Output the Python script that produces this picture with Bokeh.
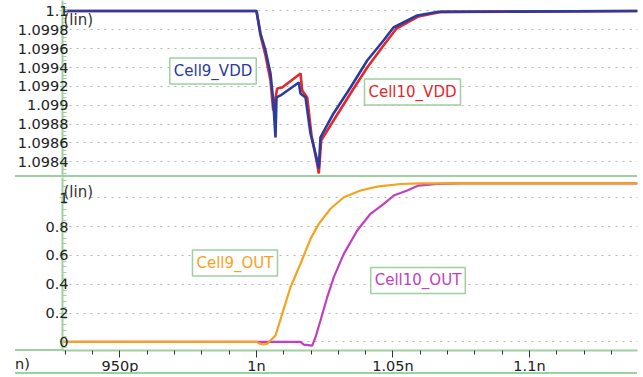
from bokeh.plotting import figure
from bokeh.layouts import column
from bokeh.models import Range1d, Label, FixedTicker, ColumnDataSource, Div
from bokeh.embed import file_html
from bokeh.resources import INLINE

# ---------------- data ----------------
# time in ns
x_ticks = [0.95, 1.0, 1.05, 1.1]
x_tick_labels = ["950p", "1n", "1.05n", "1.1n"]
x_unit_fragment = "n)"

vdd_ticks = [1.0984, 1.0986, 1.0988, 1.099, 1.0992, 1.0994, 1.0996, 1.0998, 1.1]
vdd_tick_labels = ["1.0984", "1.0986", "1.0988", "1.099", "1.0992", "1.0994", "1.0996", "1.0998", "1.1"]
out_ticks = [0, 0.2, 0.4, 0.6, 0.8, 1.0]
out_tick_labels = ["0", "0.2", "0.4", "0.6", "0.8", "1"]

cell9_vdd_t = [0.929, 1.0, 1.00147, 1.0033, 1.00513, 1.00612, 1.00696, 1.00733, 1.00879,
               1.0155, 1.01612, 1.01795, 1.01978, 1.02223, 1.02282, 1.02344, 1.02821,
               1.03443, 1.04055, 1.04652, 1.05018, 1.05886, 1.06619, 1.1396]
cell9_vdd_v = [1.1, 1.1, 1.099761, 1.099581, 1.099337, 1.099051, 1.098659, 1.099083, 1.099104,
               1.099242, 1.099125, 1.099083, 1.098701, 1.098415, 1.098330, 1.098659, 1.098913,
               1.099189, 1.099475, 1.099687, 1.099825, 1.099952, 1.09999, 1.1]

cell10_vdd_t = [0.929, 1.0, 1.00147, 1.0033, 1.00513, 1.00612, 1.00758, 1.00941, 1.01612,
                1.01674, 1.01857, 1.02015, 1.02234, 1.02282, 1.0237, 1.02821, 1.03443,
                1.04055, 1.04652, 1.05128, 1.05934, 1.0674, 1.1396]
cell10_vdd_v = [1.1, 1.1, 1.099740, 1.099528, 1.099263, 1.098945, 1.099178, 1.099189, 1.099337,
                1.099157, 1.099083, 1.098680, 1.098362, 1.098277, 1.098627, 1.098839, 1.099125,
                1.099401, 1.099634, 1.099814, 1.099942, 1.09999, 1.1]

cell9_out_t = [0.929, 1.0, 1.0011, 1.00267, 1.00403, 1.0055, 1.00696, 1.00941, 1.01245, 1.01612,
               1.01978, 1.02282, 1.02711, 1.03198, 1.0381, 1.04421, 1.05275, 1.06007, 1.1396]
cell9_out_v = [0.0, 0.0, -0.012, -0.017, -0.012, 0.016, 0.044, 0.194, 0.379, 0.542,
               0.715, 0.819, 0.924, 1.004, 1.051, 1.078, 1.096, 1.1, 1.1]

cell10_out_t = [0.929, 1.01612, 1.01733, 1.0204, 1.02161, 1.02344, 1.0259, 1.02832, 1.03198,
                1.03689, 1.04176, 1.04663, 1.05029, 1.0552, 1.05934, 1.06619, 1.07473, 1.1396]
cell10_out_v = [0.0, 0.0, -0.019, -0.026, 0.032, 0.148, 0.310, 0.449, 0.611,
                0.773, 0.889, 0.958, 1.016, 1.051, 1.085, 1.097, 1.1, 1.1]

series_names = ["Cell9_VDD", "Cell10_VDD", "Cell9_OUT", "Cell10_OUT"]

# ---------------- style ----------------
GREEN = "#9fd09f"
GRID = "#b4b4b4"
BLUE = "#2b3b9e"
RED = "#e5262b"
ORANGE = "#f7a21e"
MAGENTA = "#c23ec2"
FONT = "DejaVu Sans"

x_range = Range1d(0.92894, 1.13956)


def style_y(p, ticks, labels):
    minor = []
    step = (ticks[1] - ticks[0]) / 5.0
    for i in range(-1, len(ticks)):
        base = ticks[0] + i * (ticks[1] - ticks[0])
        for k in range(1, 5):
            minor.append(base + k * step)
    ax = p.yaxis[0]
    ax.ticker = FixedTicker(ticks=ticks, minor_ticks=minor)
    ax.major_label_overrides = {t: l for t, l in zip(ticks, labels)}
    ax.axis_line_color = GREEN
    ax.axis_line_width = 2
    ax.major_tick_line_color = GREEN
    ax.minor_tick_line_color = GREEN
    ax.major_tick_in = 5
    ax.major_tick_out = 3
    ax.minor_tick_in = 4
    ax.minor_tick_out = 0
    ax.major_label_standoff = -9
    ax.major_label_text_font = FONT
    ax.major_label_text_font_size = "14.5px"
    ax.major_label_text_color = "#222222"
    p.ygrid.ticker = FixedTicker(ticks=ticks)
    p.ygrid.grid_line_color = GRID
    p.ygrid.grid_line_dash = "2 5"
    p.ygrid.grid_line_width = 1
    p.xgrid.grid_line_color = None


def add_tag(p, x, y, text, color):
    p.add_layout(Label(x=x, y=y, text=text, text_color=color, text_font=FONT,
                       text_font_size="15px", text_align="center", text_baseline="middle",
                       border_line_color=GREEN, border_line_width=1.5,
                       background_fill_color="white", padding=4))


# ---------------- top figure ----------------
p1 = figure(width=643, height=177, x_range=x_range, y_range=Range1d(1.098234, 1.100111),
            output_backend="svg", toolbar_location=None, x_axis_location=None,
            min_border_left=62, min_border_right=6, min_border_top=0, min_border_bottom=0)
p1.outline_line_color = None
p1.background_fill_color = "white"
p1.border_fill_color = "white"
style_y(p1, vdd_ticks, vdd_tick_labels)

src_c10v = ColumnDataSource(dict(t=cell10_vdd_t, v=cell10_vdd_v))
src_c9v = ColumnDataSource(dict(t=cell9_vdd_t, v=cell9_vdd_v))
p1.line("t", "v", source=src_c10v, line_color=RED, line_width=2.6)
p1.line("t", "v", source=src_c9v, line_color=BLUE, line_width=2.6)

p1.add_layout(Label(x=x_range.start, y=vdd_ticks[-1], x_offset=1, text="(lin)",
                    text_font=FONT, text_font_size="15px", text_color="#333333",
                    text_baseline="top", text_align="left"))
add_tag(p1, 0.98407, 1.099364, series_names[0], BLUE)
add_tag(p1, 1.05714, 1.099141, series_names[1], RED)

# ---------------- bottom figure ----------------
p2 = figure(width=643, height=200, x_range=x_range, y_range=Range1d(-0.060, 1.141),
            output_backend="svg", toolbar_location=None,
            min_border_left=62, min_border_right=6, min_border_top=0, min_border_bottom=27)
p2.outline_line_color = None
p2.background_fill_color = "white"
p2.border_fill_color = "white"
style_y(p2, out_ticks, out_tick_labels)

xmin = []
for i in range(-1, len(x_ticks)):
    base = x_ticks[0] + i * 0.05
    for k in range(1, 5):
        xmin.append(base + k * 0.01)
xa = p2.xaxis[0]
xa.ticker = FixedTicker(ticks=x_ticks, minor_ticks=xmin)
xa.major_label_overrides = {t: l for t, l in zip(x_ticks, x_tick_labels)}
xa.axis_line_color = GREEN
xa.axis_line_width = 2
xa.major_tick_line_color = "#333333"
xa.minor_tick_line_color = "#333333"
xa.major_tick_in = 0
xa.major_tick_out = 7
xa.minor_tick_in = 0
xa.minor_tick_out = 4
xa.major_label_standoff = 0
xa.major_label_text_font = FONT
xa.major_label_text_font_size = "14.5px"
xa.major_label_text_color = "#222222"

src_c10o = ColumnDataSource(dict(t=cell10_out_t, v=cell10_out_v))
src_c9o = ColumnDataSource(dict(t=cell9_out_t, v=cell9_out_v))
p2.line("t", "v", source=src_c10o, line_color=MAGENTA, line_width=2.2)
p2.line("t", "v", source=src_c9o, line_color=ORANGE, line_width=2.2)

p2.add_layout(Label(x=x_range.start, y=1.1, x_offset=1, text="(lin)",
                    text_font=FONT, text_font_size="15px", text_color="#333333",
                    text_baseline="top", text_align="left"))
add_tag(p2, 0.99212, 0.547, series_names[2], ORANGE)
add_tag(p2, 1.05916, 0.426, series_names[3], MAGENTA)

# overlay strip (transparent) over the lower panel: separator rule, left extension of
# the time-axis line, unit fragment and bottom rule
OV_H = 203
ov_html = (
    '<div style="position:relative;width:643px;height:%dpx;">'
    '<div style="position:absolute;left:15px;top:1px;width:622px;height:2px;background:%s"></div>'
    '<div style="position:absolute;left:15px;top:175px;width:48px;height:2px;background:%s"></div>'
    '<div style="position:absolute;left:15px;top:182px;font-family:\'DejaVu Sans\';font-size:14.5px;'
    'line-height:17px;color:#222222">%s</div>'
    '<div style="position:absolute;left:15px;top:198px;width:622px;height:2px;background:%s"></div>'
    '</div>' % (OV_H, GREEN, GREEN, x_unit_fragment, GREEN)
)
overlay = Div(text=ov_html, width=643, height=OV_H, margin=(-OV_H, 0, 0, 0))

layout = column(p1, p2, overlay, spacing=0)
open("out.html", "w").write(file_html(layout, INLINE))
